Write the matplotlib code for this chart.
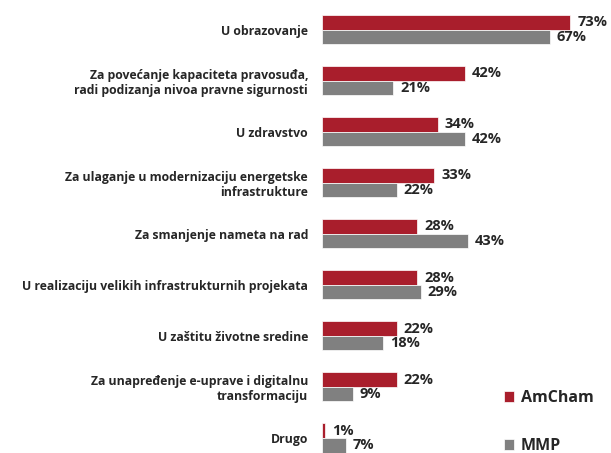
import matplotlib
matplotlib.use("Agg")
import matplotlib.pyplot as plt
import numpy as np

categories = [
    "U obrazovanje",
    "Za povećanje kapaciteta pravosuđa,\nradi podizanja nivoa pravne sigurnosti",
    "U zdravstvo",
    "Za ulaganje u modernizaciju energetske\ninfrastrukture",
    "Za smanjenje nameta na rad",
    "U realizaciju velikih infrastrukturnih projekata",
    "U zaštitu životne sredine",
    "Za unapređenje e-uprave i digitalnu\ntransformaciju",
    "Drugo",
]
amcham = [73, 42, 34, 33, 28, 28, 22, 22, 1]
mmp = [67, 21, 42, 22, 43, 29, 18, 9, 7]
series_names = ["AmCham", "MMP"]

red = "#A91E2C"
gray = "#808080"
txt = "#262626"

plt.rcParams["font.family"] = ["Open Sans", "DejaVu Sans"]

fig = plt.figure(figsize=(6.11, 4.53), dpi=100)
ax = fig.add_axes([0.527, 0.0, 0.473, 1.0])

y = np.arange(len(categories))
h = 0.285
ax.barh(y - h / 2, amcham, height=h, color=red, edgecolor="white", linewidth=0.5, label=series_names[0])
ax.barh(y + h / 2, mmp, height=h, color=gray, edgecolor="white", linewidth=0.5, label=series_names[1])

# value labels
for yi, v in zip(y, amcham):
    ax.annotate(f"{v}%", (v, yi - h / 2), xytext=(5, 0), textcoords="offset points",
                va="center", ha="left", fontsize=10.5, fontweight="bold", color=txt)
for yi, v in zip(y, mmp):
    ax.annotate(f"{v}%", (v, yi + h / 2), xytext=(5, 0), textcoords="offset points",
                va="center", ha="left", fontsize=10.5, fontweight="bold", color=txt)

ax.set_xlim(0, 85)
ax.set_ylim(8.294, -0.578)
ax.set_yticks(y)
ax.set_yticklabels(categories, fontsize=8.8, fontweight="bold", color=txt, linespacing=1.2)
ax.tick_params(axis="y", length=0, pad=10)
ax.set_xticks([])
for s in ax.spines.values():
    s.set_visible(False)

leg = fig.legend(loc="center left", bbox_to_anchor=(0.825, 0.068), frameon=False,
                 prop={"weight": "bold", "size": 11.5}, labelspacing=2.0,
                 handlelength=0.65, handleheight=0.65, handletextpad=0.4,
                 borderpad=0, borderaxespad=0)
for t in leg.get_texts():
    t.set_color(txt)

fig.savefig("out.png", dpi=100)
